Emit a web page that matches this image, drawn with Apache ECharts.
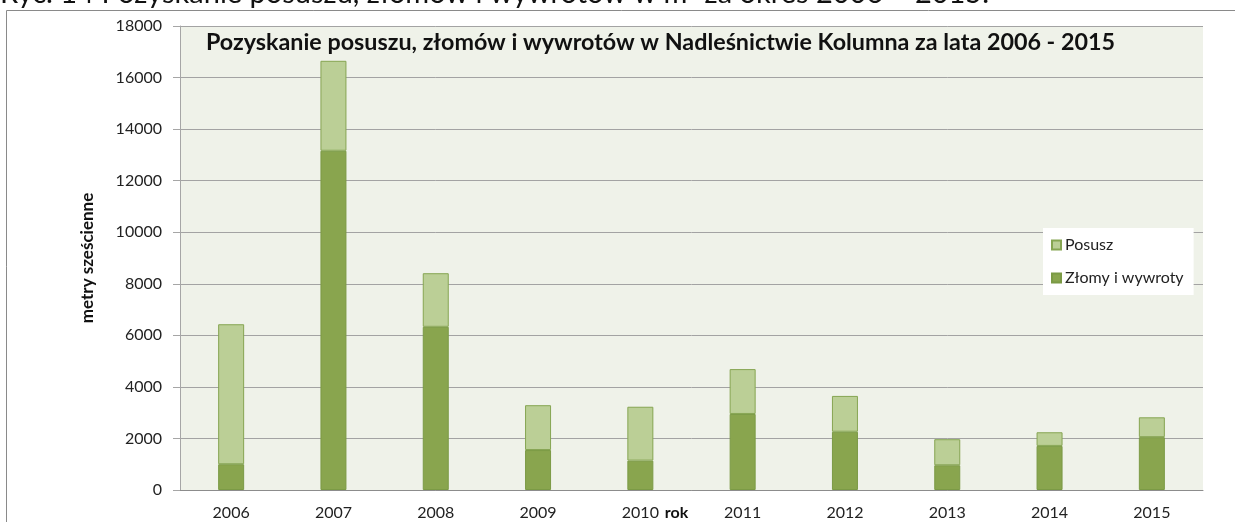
<!DOCTYPE html>
<html>
<head>
<meta charset="utf-8">
<script src="https://cdn.jsdelivr.net/npm/echarts@6/dist/echarts.min.js"></script>
<style>
  html, body { margin: 0; padding: 0; background: #fff; }
  #chart { width: 1235px; height: 522px; }
</style>
</head>
<body>
<div id="chart"></div>
<script>
const years = ["2006", "2007", "2008", "2009", "2010", "2011", "2012", "2013", "2014", "2015"];
const zlomy = [1000, 13160, 6330, 1550, 1140, 2950, 2260, 960, 1710, 2050];
const posusz = [5430, 3490, 2080, 1740, 2090, 1740, 1390, 1010, 530, 770];

const font = "Lato, 'Open Sans', sans-serif";

var myChart = echarts.init(document.getElementById("chart"));

let option = {
  animation: false,
  textStyle: { fontFamily: font, color: "#222" },
  title: {
    text: "Pozyskanie posuszu, złomów i wywrotów w Nadleśnictwie Kolumna za lata 2006 - 2015",
    left: 206,
    top: 31,
    padding: 0,
    textStyle: { fontFamily: font, fontSize: 23.3, fontWeight: "bold", color: "#111" },
  },
  graphic: [
    {
      type: "rect",
      shape: { x: 6.5, y: 10.5, width: 1400, height: 700 },
      style: { fill: "none", stroke: "#8a8a8a", lineWidth: 1 },
      z: -1,
    },
    {
      type: "text",
      left: 0,
      top: -21,
      style: {
        text: "Ryc. 14 Pozyskanie posuszu, złomów i wywrotów w m³ za okres 2006 – 2015.",
        font: "29px " + font,
        fill: "#111",
      },
    },
  ],
  legend: {
    orient: "vertical",
    left: 1043,
    top: 228,
    data: ["Posusz", "Złomy i wywroty"],
    backgroundColor: "#ffffff",
    padding: [9, 10, 9, 8],
    itemWidth: 9,
    itemHeight: 9,
    itemGap: 17,
    icon: "rect",
    textStyle: { fontFamily: font, fontSize: 16, color: "#222", padding: [0, 0, 0, -1] },
  },
  grid: {
    left: 180,
    right: 32,
    top: 26,
    bottom: 32,
    outerBoundsMode: "none",
    show: true,
    backgroundColor: "#eff2e9",
    borderWidth: 0,
  },
  xAxis: {
    type: "category",
    data: years,
    name: "rok",
    nameLocation: "middle",
    nameGap: 15,
    nameMoveOverlap: false,
    nameTextStyle: { fontFamily: font, fontSize: 16, fontWeight: "bold", color: "#111", padding: [0, 30, 0, 0] },
    axisLine: { lineStyle: { color: "#8c8c8c", width: 1 } },
    axisTick: { show: false },
    axisLabel: { margin: 15, fontSize: 16, color: "#222", fontFamily: font },
  },
  yAxis: {
    type: "value",
    min: 0,
    max: 18000,
    interval: 2000,
    name: "metry sześcienne",
    nameLocation: "middle",
    nameGap: 84,
    nameTextStyle: { fontFamily: font, fontSize: 17, fontWeight: "bold", color: "#111" },
    axisLine: { show: true, lineStyle: { color: "#a6a6a6", width: 1 } },
    axisTick: { show: true, length: 7, lineStyle: { color: "#a6a6a6" } },
    axisLabel: { margin: 18, fontSize: 16, color: "#222", fontFamily: font, formatter: (v) => String(v) },
    splitLine: { lineStyle: { color: "#a3a3a3", width: 1 } },
  },
  series: [
    {
      name: "Złomy i wywroty",
      type: "bar",
      stack: "Total",
      barWidth: 26,
      data: zlomy,
      itemStyle: { color: "#89a54e", borderColor: "#7b9a45", borderWidth: 1 },
    },
    {
      name: "Posusz",
      type: "bar",
      stack: "Total",
      barWidth: 26,
      data: posusz,
      itemStyle: { color: "#bbcf96", borderColor: "#86a552", borderWidth: 1 },
    },
  ],
};
myChart.setOption(option);
</script>
</body>
</html>
